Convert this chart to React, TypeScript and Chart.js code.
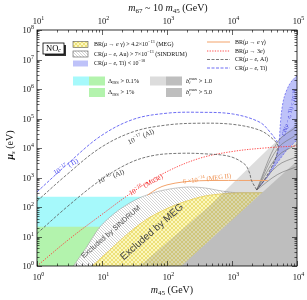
import React, { useEffect, useRef } from 'react';
import { Chart, registerables } from 'chart.js';

Chart.register(...registerables);

// ---------- axes (log10 exponents) ----------
const xTickExps = [0, 1, 2, 3, 4]; // m45 (GeV)
const topTickExps = [1, 2, 3, 4, 5]; // m67 (GeV)
const yTickExps = [0, 1, 2, 3, 4, 5, 6, 7, 8]; // mu_s (eV)
const minorSteps = [2, 3, 4, 5, 6, 7, 8, 9];

// ---------- regions (log10 m45 , log10 mu_s) ----------
const iss01X = [0, 2.2];
const iss01Y = [2.35, 2.35];
const iss1X = [0, 1.2];
const iss1Y = [1.33, 1.33];
const sindrumX = [0.56, 0.75, 0.97, 1.2, 1.4, 1.6, 1.85, 2.1, 2.35, 2.6, 2.85, 3.1, 4.0];
const sindrumY = [0, 0.6, 1.33, 1.8, 2.1, 2.33, 2.52, 2.63, 2.68, 2.64, 2.54, 2.48, 2.48];
const megX = [0.85, 1.1, 1.4, 1.7, 2.0, 2.3, 2.6, 3.0, 3.4, 4.0];
const megY = [0, 0.5, 1.1, 1.6, 1.95, 2.2, 2.38, 2.47, 2.48, 2.48];
const b1X = [1.58, 2.66, 3.58, 4.0];
const b1Y = [0, 2.05, 4.02, 4.84];
const b5X = [2.22, 4.0];
const b5Y = [0, 3.56];
const lobeX = [3.38, 3.55, 3.66, 3.72, 3.74, 3.76, 3.8, 3.87, 3.95, 4.03, 4.03, 3.85, 3.68, 3.52, 3.38];
const lobeY = [2.58, 3.05, 3.55, 4.1, 4.7, 5.2, 5.7, 6.1, 6.35, 6.45, 4.42, 3.95, 3.45, 2.95, 2.58];

// ---------- contour curves ----------
const tiX = [0, 0.46, 0.97, 1.48, 2.0, 2.51, 3.02, 3.43, 3.6, 3.7];
const tiY = [2.51, 3.44, 4.39, 4.97, 5.18, 5.21, 5.15, 4.87, 4.5, 4.2];
const al17X = [0, 0.46, 0.97, 1.48, 2.0, 2.51, 3.02, 3.43, 3.63, 3.71, 3.66, 3.52, 3.38];
const al17Y = [2.2, 3.1, 4.0, 4.55, 4.78, 4.84, 4.8, 4.6, 4.3, 4.05, 3.6, 3.0, 2.58];
const al15X = [0, 0.46, 0.97, 1.43, 1.8, 2.2, 2.6, 2.97, 3.2, 3.27, 3.3, 3.38];
const al15Y = [1.1, 2.0, 2.9, 3.5, 3.75, 3.82, 3.8, 3.71, 3.44, 3.15, 2.9, 2.58];
const mu3eX = [0, 0.5, 1.0, 1.5, 2.0, 2.5, 3.0, 3.5, 4.0];
const mu3eY = [0, 0.92, 1.75, 2.55, 3.2, 3.65, 3.88, 4.0, 4.07];
const meg2X = [1.7, 1.85, 2.0, 2.25, 2.5, 2.8, 3.1, 3.55];
const meg2Y = [2.4, 2.62, 2.75, 2.85, 2.89, 2.9, 2.9, 2.9];
const fanX = [3.38, 3.7, 4.0];
const fan1Y = [2.58, 4.2, 4.73];
const fan2Y = [2.58, 3.98, 4.46];
const fan3Y = [2.58, 3.72, 4.12];
const fan4Y = [2.58, 3.4, 3.71];
const fan5Y = [2.58, 3.1, 3.37];

const SERIF = '"Liberation Serif", "DejaVu Serif", serif';
const SANS = '"Liberation Sans", Arial, sans-serif';

const CYAN = '#a6f9fb';
const GREEN = '#b3f3ad';
const LIGHTGRAY = 'rgba(130,130,130,0.27)';
const DARKGRAY = '#bebebe';
const LOBE = 'rgba(100,110,240,0.42)';

const pts = (xs: number[], ys: number[]) => xs.map((x, i) => ({ x: Math.pow(10, x), y: Math.pow(10, ys[i]) }));

function makeHatch(): CanvasPattern | string {
  const c = document.createElement('canvas');
  c.width = 3; c.height = 3;
  const g = c.getContext('2d');
  if (!g) return '#eee';
  g.fillStyle = '#ffffff';
  g.fillRect(0, 0, 3, 3);
  g.strokeStyle = '#a8a8a8';
  g.lineWidth = 0.5;
  g.beginPath();
  g.moveTo(0, 0); g.lineTo(3, 3);
  g.moveTo(-1, 2); g.lineTo(1, 4);
  g.moveTo(2, -1); g.lineTo(4, 1);
  g.stroke();
  return g.createPattern(c, 'repeat') as CanvasPattern;
}

function makeCross(): CanvasPattern | string {
  const c = document.createElement('canvas');
  c.width = 4; c.height = 4;
  const g = c.getContext('2d');
  if (!g) return '#f7f0a0';
  g.fillStyle = '#fbf7be';
  g.fillRect(0, 0, 4, 4);
  g.strokeStyle = '#e6d65c';
  g.lineWidth = 0.7;
  g.beginPath();
  g.moveTo(0, 0); g.lineTo(4, 4);
  g.moveTo(4, 0); g.lineTo(0, 4);
  g.stroke();
  return g.createPattern(c, 'repeat') as CanvasPattern;
}

type Seg = { t: string; k?: 'sup' | 'sub' | 'stack'; t2?: string; i?: boolean; b?: boolean };

function fontOf(size: number, seg: Seg, fam: string) {
  return `${seg.i ? 'italic ' : ''}${seg.b ? 'bold ' : ''}${size}px ${fam}`;
}

function segWidth(ctx: CanvasRenderingContext2D, seg: Seg, size: number, fam: string) {
  const s = seg.k ? size * 0.7 : size;
  ctx.font = fontOf(s, seg, fam);
  let w = ctx.measureText(seg.t).width;
  if (seg.k === 'stack' && seg.t2) {
    ctx.font = fontOf(s, { t: seg.t2, i: true }, fam);
    w = Math.max(w, ctx.measureText(seg.t2).width);
  }
  return w;
}

function drawRich(
  ctx: CanvasRenderingContext2D, segs: Seg[], x: number, y: number, size: number, color: string,
  align: 'left' | 'center' | 'right' = 'left', rot = 0, fam = SERIF
) {
  ctx.save();
  ctx.translate(x, y);
  ctx.rotate(rot);
  let w = 0;
  for (const s of segs) w += segWidth(ctx, s, size, fam);
  let cx = align === 'center' ? -w / 2 : align === 'right' ? -w : 0;
  ctx.textBaseline = 'middle';
  ctx.textAlign = 'left';
  ctx.fillStyle = color;
  for (const s of segs) {
    const sz = s.k ? size * 0.7 : size;
    const sw = segWidth(ctx, s, size, fam);
    ctx.font = fontOf(sz, s, fam);
    if (s.k === 'stack') {
      ctx.fillText(s.t, cx, -size * 0.4);
      ctx.font = fontOf(sz, { t: '', i: true }, fam);
      ctx.fillText(s.t2 || '', cx, size * 0.3);
    } else {
      const dy = s.k === 'sup' ? -size * 0.38 : s.k === 'sub' ? size * 0.28 : 0;
      ctx.fillText(s.t, cx, dy);
    }
    cx += sw;
  }
  ctx.restore();
}

function lineSample(ctx: CanvasRenderingContext2D, x1: number, x2: number, y: number, color: string, dash: number[], w: number) {
  ctx.save();
  ctx.strokeStyle = color;
  ctx.lineWidth = w;
  ctx.setLineDash(dash);
  ctx.beginPath();
  ctx.moveTo(x1, y);
  ctx.lineTo(x2, y);
  ctx.stroke();
  ctx.restore();
}

export default function App() {
  const ref = useRef<HTMLCanvasElement | null>(null);

  useEffect(() => {
    const canvas = ref.current;
    if (!canvas) return;
    const hatch = makeHatch();
    const cross = makeCross();

    const base = { pointRadius: 0, pointHoverRadius: 0, tension: 0, borderWidth: 0 };
    const curve = (xs: number[], ys: number[], color: string, dash: number[], w: number) => ({
      ...base, data: pts(xs, ys), fill: false, borderColor: color, borderDash: dash, borderWidth: w, tension: 0.35,
    });

    const datasets: any[] = [
      { ...base, data: pts(iss01X, iss01Y), fill: 'start', backgroundColor: CYAN, borderColor: 'rgba(0,0,0,0)' },
      { ...base, data: pts(iss1X, iss1Y), fill: 'start', backgroundColor: GREEN, borderColor: 'rgba(0,0,0,0)' },
      { ...base, data: pts(sindrumX, sindrumY), fill: 'start', backgroundColor: hatch, borderColor: '#a0a0a0', borderWidth: 0.6, tension: 0.3 },
      { ...base, data: pts(megX, megY), fill: 'start', backgroundColor: cross, borderColor: '#e8cd55', borderWidth: 0.8, tension: 0.3 },
      { ...base, data: pts(b1X, b1Y), fill: 'start', backgroundColor: LIGHTGRAY, borderColor: 'rgba(0,0,0,0)' },
      { ...base, data: pts(b5X, b5Y), fill: 'start', backgroundColor: DARKGRAY, borderColor: 'rgba(0,0,0,0)' },
      { ...base, data: pts(lobeX, lobeY), fill: 'shape', backgroundColor: LOBE, borderColor: '#5a5aee', borderWidth: 0.7, borderDash: [2, 1.5], tension: 0.3 },
      curve(fanX, fan1Y, '#6e6e6e', [], 0.6),
      curve(fanX, fan2Y, '#6e6e6e', [], 0.6),
      curve(fanX, fan3Y, '#6e6e6e', [], 0.6),
      curve(fanX, fan4Y, '#6e6e6e', [], 0.6),
      curve(fanX, fan5Y, '#6e6e6e', [], 0.6),
      curve(meg2X, meg2Y, '#f3a36b', [], 1),
      curve(mu3eX, mu3eY, '#ff3a3a', [1.3, 1.3], 0.9),
      curve(al15X, al15Y, '#555555', [3, 1.5], 0.8),
      curve(al17X, al17Y, '#555555', [3, 1.5], 0.8),
      curve(tiX, tiY, '#5c5cf2', [3, 1.5], 0.9),
    ];
    const n = datasets.length;
    datasets.forEach((d, i) => { d.order = n - i; });

    const overlay = {
      id: 'overlay',
      afterDatasetsDraw(chart: any) {
        const ctx: CanvasRenderingContext2D = chart.ctx;
        const sup = (t: string): Seg => ({ t, k: 'sup' });
        // in-plot labels
        drawRich(ctx, [{ t: '10' }, sup('−17'), { t: ' (Ti)' }], 66, 167, 7, '#4b4bf0', 'center', -0.5);
        drawRich(ctx, [{ t: '10' }, sup('−17'), { t: ' (Al)' }], 141, 137, 7, '#333', 'center', -0.42);
        drawRich(ctx, [{ t: '10' }, sup('−15'), { t: ' (Al)' }], 111, 177, 7, '#333', 'center', -0.38);
        drawRich(ctx, [{ t: '10' }, sup('−16'), { t: ' (Mu3e)' }], 146, 185, 7, '#f03030', 'center', -0.5);
        drawRich(ctx, [{ t: '6 ×10' }, sup('−14'), { t: ' (MEG II)' }], 207, 179, 6.5, '#ee9050', 'center', -0.12);
        drawRich(ctx, [{ t: 'Excluded by SINDRUM' }], 111, 232, 7.3, '#555', 'center', -0.72, SANS);
        drawRich(ctx, [{ t: 'Excluded by MEG' }], 152, 232, 10, '#444', 'center', -0.72, SANS);
        drawRich(ctx, [{ t: 'CR(' }, { t: 'μ', i: true }, { t: ' − ' }, { t: 'e', i: true }, { t: ', Ti) < 10' }, sup('−18')], 290, 113, 5.5, '#3c3cd8', 'center', -1.3);

        // NO_c box
        ctx.save();
        ctx.fillStyle = '#333';
        ctx.fillRect(45, 45, 21, 11);
        ctx.fillStyle = '#fff';
        ctx.fillRect(43, 43, 21, 11);
        ctx.strokeStyle = '#000';
        ctx.lineWidth = 0.8;
        ctx.strokeRect(43, 43, 21, 11);
        ctx.restore();
        drawRich(ctx, [{ t: 'NO' }, { t: 'c', k: 'sub', i: true }], 53.5, 48.5, 8.5, '#000', 'center');

        // left legend (regions)
        const sw = (x: number, y: number, w: number, h: number, fill: any, border = true) => {
          ctx.save();
          ctx.fillStyle = fill;
          ctx.fillRect(x, y, w, h);
          if (border) { ctx.strokeStyle = '#555'; ctx.lineWidth = 0.6; ctx.strokeRect(x, y, w, h); }
          ctx.restore();
        };
        sw(73, 41.5, 15, 6, cross);
        sw(73, 51, 15, 6, hatch);
        sw(73, 60.5, 15, 6, LOBE, false);
        const fs = 6;
        drawRich(ctx, [{ t: 'BR(' }, { t: 'μ', i: true }, { t: ' → ' }, { t: 'e', i: true }, { t: ' γ) > 4.2×10' }, sup('−13'), { t: ' (MEG)' }], 94, 44.5, fs, '#111');
        drawRich(ctx, [{ t: 'CR(' }, { t: 'μ', i: true }, { t: ' − ' }, { t: 'e', i: true }, { t: ', Au) > 7×10' }, sup('−13'), { t: ' (SINDRUM)' }], 94, 54, fs, '#111');
        drawRich(ctx, [{ t: 'CR(' }, { t: 'μ', i: true }, { t: ' − ' }, { t: 'e', i: true }, { t: ', Ti) < 10' }, sup('−18')], 94, 63.5, fs, '#111');

        // right legend (lines)
        lineSample(ctx, 207, 230, 42, '#f3a36b', [], 1);
        lineSample(ctx, 207, 230, 51, '#ff3a3a', [1.3, 1.3], 0.9);
        lineSample(ctx, 207, 230, 59.5, '#555', [3, 1.5], 0.8);
        lineSample(ctx, 207, 230, 68, '#5c5cf2', [3, 1.5], 0.9);
        drawRich(ctx, [{ t: 'BR(' }, { t: 'μ', i: true }, { t: ' → ' }, { t: 'e', i: true }, { t: ' γ)' }], 235, 42, fs, '#111');
        drawRich(ctx, [{ t: 'BR(' }, { t: 'μ', i: true }, { t: ' → 3' }, { t: 'e', i: true }, { t: ')' }], 235, 51, fs, '#111');
        drawRich(ctx, [{ t: 'CR(' }, { t: 'μ', i: true }, { t: ' − ' }, { t: 'e', i: true }, { t: ', Al)' }], 235, 59.5, fs, '#111');
        drawRich(ctx, [{ t: 'CR(' }, { t: 'μ', i: true }, { t: ' − ' }, { t: 'e', i: true }, { t: ', Ti)' }], 235, 68, fs, '#111');

        // second legend row
        sw(73, 76.5, 16, 9, CYAN, false);
        sw(89, 76.5, 16, 9, GREEN, false);
        sw(89, 88, 16, 9, GREEN, false);
        sw(150, 76.5, 16, 9, '#dcdcdc', false);
        sw(166, 76.5, 16, 9, DARKGRAY, false);
        sw(166, 88, 16, 9, DARKGRAY, false);
        drawRich(ctx, [{ t: 'Δ' }, { t: 'ISS', k: 'sub' }, { t: ' > 0.1%' }], 108, 81, 6.5, '#111');
        drawRich(ctx, [{ t: 'Δ' }, { t: 'ISS', k: 'sub' }, { t: ' > 1%' }], 108, 92.5, 6.5, '#111');
        drawRich(ctx, [{ t: 'b', i: true }, { t: 'max', k: 'stack', t2: 'i' }, { t: ' > 1.0' }], 186, 81, 6.5, '#111');
        drawRich(ctx, [{ t: 'b', i: true }, { t: 'max', k: 'stack', t2: 'i' }, { t: ' > 5.0' }], 186, 92.5, 6.5, '#111');
      },
      afterDraw(chart: any) {
        const ctx: CanvasRenderingContext2D = chart.ctx;
        const a = chart.chartArea;
        const xs = chart.scales.x;
        const x2 = chart.scales.x2;
        const ys = chart.scales.y;
        ctx.save();
        ctx.strokeStyle = '#000';
        ctx.lineWidth = 0.8;
        ctx.strokeRect(a.left, a.top, a.right - a.left, a.bottom - a.top);
        ctx.lineWidth = 0.6;
        ctx.beginPath();
        const tickX = (scale: any, exps: number[], yEdge: number, dir: number) => {
          for (let k = 0; k < exps.length; k++) {
            const e = exps[k];
            const p = Math.round(scale.getPixelForValue(Math.pow(10, e))) + 0.5;
            ctx.moveTo(p, yEdge); ctx.lineTo(p, yEdge + dir * 5);
            if (k < exps.length - 1) {
              for (const s of minorSteps) {
                const q = Math.round(scale.getPixelForValue(s * Math.pow(10, e))) + 0.5;
                ctx.moveTo(q, yEdge); ctx.lineTo(q, yEdge + dir * 2.5);
              }
            }
          }
        };
        const tickY = (scale: any, exps: number[], xEdge: number, dir: number) => {
          for (let k = 0; k < exps.length; k++) {
            const e = exps[k];
            const p = Math.round(scale.getPixelForValue(Math.pow(10, e))) + 0.5;
            ctx.moveTo(xEdge, p); ctx.lineTo(xEdge + dir * 5, p);
            if (k < exps.length - 1) {
              for (const s of minorSteps) {
                const q = Math.round(scale.getPixelForValue(s * Math.pow(10, e))) + 0.5;
                ctx.moveTo(xEdge, q); ctx.lineTo(xEdge + dir * 2.5, q);
              }
            }
          }
        };
        tickX(xs, xTickExps, a.bottom, -1);
        tickX(x2, topTickExps, a.top, 1);
        tickY(ys, yTickExps, a.left, 1);
        tickY(ys, yTickExps, a.right, -1);
        ctx.stroke();
        ctx.restore();

        const fsz = 8.5;
        ctx.font = `${fsz}px ${SERIF}`;
        const w10 = ctx.measureText('10').width;
        for (const e of xTickExps) {
          const p = xs.getPixelForValue(Math.pow(10, e));
          drawRich(ctx, [{ t: '10' }, { t: String(e), k: 'sup' }], p - w10 / 2, 278, fsz, '#111');
        }
        for (const e of topTickExps) {
          const p = x2.getPixelForValue(Math.pow(10, e));
          drawRich(ctx, [{ t: '10' }, { t: String(e), k: 'sup' }], p - w10 / 2, 22, fsz, '#111');
        }
        for (const e of yTickExps) {
          const p = ys.getPixelForValue(Math.pow(10, e));
          drawRich(ctx, [{ t: '10' }, { t: String(e), k: 'sup' }], 34, p + 1, fsz, '#111', 'right');
        }
        drawRich(ctx, [{ t: 'm', i: true }, { t: '45', k: 'sub' }, { t: ' (GeV)' }], 172, 290, 10, '#111', 'center');
        drawRich(ctx, [{ t: 'm', i: true }, { t: '67', k: 'sub' }, { t: ' ~ 10 ' }, { t: 'm', i: true }, { t: '45', k: 'sub' }, { t: ' (GeV)' }], 168, 8, 10, '#111', 'center');
        drawRich(ctx, [{ t: 'μ', i: true, b: true }, { t: 's', k: 'sub', i: true }, { t: ' (eV)' }], 10, 145, 10, '#111', 'center', -Math.PI / 2);
      },
    };

    const chart = new Chart(canvas, {
      type: 'line',
      data: { datasets },
      options: {
        responsive: false,
        animation: false,
        devicePixelRatio: 1,
        layout: { padding: { left: 37, right: 10, top: 30, bottom: 34 } },
        plugins: { legend: { display: false }, tooltip: { enabled: false } },
        events: [],
        scales: {
          x: { type: 'logarithmic', min: 1, max: 1e4, display: false },
          x2: { type: 'logarithmic', position: 'top', min: 10, max: 1e5, display: false },
          y: { type: 'logarithmic', min: 1, max: 1e8, display: false },
        },
      } as any,
      plugins: [overlay],
    });
    return () => chart.destroy();
  }, []);

  return (
    <div style={{ position: 'absolute', left: 0, top: 0, width: 307, height: 300, background: '#fff' }}>
      <canvas ref={ref} width={307} height={300} style={{ display: 'block' }} />
    </div>
  );
}
